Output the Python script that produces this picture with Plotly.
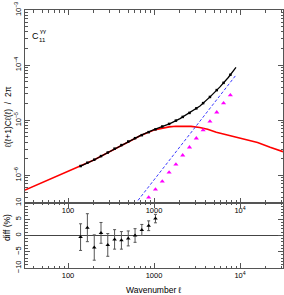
import plotly.graph_objects as go

# ---------------- data ----------------
ell_bins = [140, 168, 202, 242, 290, 348, 418, 502, 602, 722, 867, 1040,
            1248, 1498, 1797, 2157, 2588, 3106, 3727, 4472, 5367, 6440, 7728]
dots_cl = [1.479e-6, 1.698e-6, 1.928e-6, 2.239e-6, 2.600e-6, 3.055e-6, 3.548e-6,
           4.121e-6, 4.732e-6, 5.370e-6, 6.095e-6, 6.839e-6, 7.709e-6, 8.590e-6,
           9.863e-6, 1.151e-5, 1.361e-5, 1.644e-5, 2.046e-5, 2.649e-5, 3.524e-5,
           4.775e-5, 6.683e-5]

model_ell = [140, 200, 300, 500, 700, 1000, 1250, 1535, 2006, 2623, 3428, 4482, 5853, 7311, 8980]
model_cl = [1.479e-6, 1.905e-6, 2.661e-6, 4.074e-6, 5.309e-6, 6.761e-6, 7.650e-6, 8.710e-6,
            1.074e-5, 1.380e-5, 1.820e-5, 2.655e-5, 4.027e-5, 5.970e-5, 9.078e-5]

red_ell = [31.6, 50, 100, 138, 200, 300, 500, 700, 1000, 1250, 1500, 1800, 2200, 2700, 3400,
           4200, 5300, 6700, 8400, 11000, 16000, 22400, 31600]
red_cl = [5.408e-7, 7.396e-7, 1.175e-6, 1.479e-6, 1.905e-6, 2.661e-6, 4.074e-6,
          5.309e-6, 6.683e-6, 7.250e-6, 7.586e-6, 7.780e-6, 7.870e-6, 7.760e-6, 7.413e-6,
          6.850e-6, 6.053e-6, 5.550e-6, 5.012e-6, 4.519e-6, 3.950e-6, 3.250e-6, 2.700e-6]

noise_ell = [600, 2000, 8980]
noise_cl = [2.99e-7, 3.32e-6, 6.6e-5]

tri_ell = [867, 1040, 1248, 1498, 1797, 2157, 2588, 3106, 3727, 4472, 5367, 6440, 7728]
tri_cl = [3.981e-7, 5.559e-7, 7.762e-7, 1.135e-6, 1.585e-6, 2.312e-6, 3.236e-6,
          4.710e-6, 6.607e-6, 9.550e-6, 1.396e-5, 2.042e-5, 2.851e-5]

diff_ell = [140, 168, 202, 242, 290, 348, 418, 502, 602, 722, 867, 1040]
diff_val = [-0.5, 2.4, -3.7, 0.8, -2.9, -1.2, -1.5, -0.9, 0.0, 1.7, 3.0, 5.2]
diff_err = [4.1, 4.3, 3.9, 3.2, 3.5, 3.0, 2.7, 2.3, 2.1, 1.7, 1.5, 1.3]

x_tickvals = [100, 1000, 10000]
x_ticktext = ["100", "1000", "10<sup>4</sup>"]
y_tickvals = [1e-6, 1e-5, 1e-4, 1e-3]
y_ticktext = ["10<sup>\u22126</sup>", "10<sup>\u22125</sup>", "10<sup>\u22124</sup>", "10<sup>\u22123</sup>"]
d_tickvals = [-10, -5, 0, 5, 10]
d_ticktext = ["\u221210", "\u22125", "0", "5", "10"]

# ---------------- figure ----------------
FONT = "Liberation Sans"
AX = "#555555"

fig = go.Figure()
fig.add_trace(go.Scatter(x=red_ell, y=red_cl, mode="lines", line=dict(color="#ff0000", width=1.6),
                         xaxis="x", yaxis="y", showlegend=False))
fig.add_trace(go.Scatter(x=noise_ell, y=noise_cl, mode="lines", line=dict(color="#3a3aff", width=1, dash="3px,2px"),
                         xaxis="x", yaxis="y", showlegend=False))
fig.add_trace(go.Scatter(x=model_ell, y=model_cl, mode="lines", line=dict(color="black", width=1.3),
                         xaxis="x", yaxis="y", showlegend=False))
fig.add_trace(go.Scatter(x=ell_bins, y=dots_cl, mode="markers", marker=dict(color="black", size=2.5, symbol="square"),
                         xaxis="x", yaxis="y", showlegend=False))
fig.add_trace(go.Scatter(x=tri_ell, y=tri_cl, mode="markers", marker=dict(color="#ff00ff", size=4.5, symbol="triangle-up"),
                         xaxis="x", yaxis="y", showlegend=False))
fig.add_trace(go.Scatter(x=diff_ell, y=diff_val, mode="markers",
                         marker=dict(color="black", size=4, symbol="triangle-up"),
                         error_y=dict(type="data", array=diff_err, color="#555555", thickness=1, width=1.5),
                         xaxis="x2", yaxis="y2", showlegend=False))

minor_x = [m * 10 ** k for k in range(1, 5) for m in range(2, 10)]
minor_y = [m * 10.0 ** k for k in range(-7, -3) for m in range(2, 10)]
minor_d = [v for v in range(-10, 11) if v % 5 != 0]

xcommon = dict(type="log", range=[1.5, 4.5], tickvals=x_tickvals, ticktext=x_ticktext,
               ticks="inside", ticklen=5, tickwidth=1, tickcolor=AX, automargin=False,
               minor=dict(tickmode="array", tickvals=minor_x, ticks="inside", ticklen=2.5, tickcolor=AX),
               showline=True, linecolor=AX, linewidth=1, mirror="allticks",
               showgrid=False, zeroline=False, tickfont=dict(family=FONT, size=7.5, color="black"))

fig.update_layout(
    width=284, height=295,
    margin=dict(l=25, r=1, t=10, b=27, autoexpand=False),
    paper_bgcolor="white", plot_bgcolor="white",
    xaxis=dict(domain=[0, 1], anchor="y", **xcommon),
    xaxis2=dict(domain=[0, 1], anchor="y2", **xcommon),
    yaxis=dict(domain=[0.252, 1], anchor="x", type="log", range=[-6.5, -3], automargin=False,
               tickvals=y_tickvals, ticktext=y_ticktext, tickangle=-90,
               ticks="inside", ticklen=5, tickcolor=AX,
               minor=dict(tickmode="array", tickvals=minor_y, ticks="inside", ticklen=2.5, tickcolor=AX),
               showline=True, linecolor=AX, linewidth=1, mirror="allticks",
               showgrid=False, zeroline=False, tickfont=dict(family=FONT, size=7.5, color="black")),
    yaxis2=dict(domain=[0, 0.252], anchor="x2", range=[-10, 10], automargin=False,
                tickvals=d_tickvals, ticktext=d_ticktext, tickangle=-90,
                ticks="inside", ticklen=5, tickcolor=AX,
                minor=dict(tickmode="array", tickvals=minor_d, ticks="inside", ticklen=2.5, tickcolor=AX),
                showline=True, linecolor=AX, linewidth=1, mirror="allticks",
                showgrid=False, zeroline=True, zerolinecolor="#444444", zerolinewidth=1,
                tickfont=dict(family=FONT, size=7.5, color="black")),
    annotations=[
        dict(text="\u2113(\u2113+1)C\u2113(\u2113)  /  2\u03c0", textangle=-90, xref="paper", yref="paper",
             x=-0.066, y=0.585, xanchor="center", yanchor="middle", showarrow=False,
             font=dict(family=FONT, size=8.5, color="black")),
        dict(text="diff (%)", textangle=-90, xref="paper", yref="paper",
             x=-0.07, y=0.159, xanchor="center", yanchor="middle", showarrow=False,
             font=dict(family=FONT, size=8.5, color="black")),
        dict(text="Wavenumber \u2113", xref="paper", yref="paper",
             x=0.5, y=-0.085, xanchor="center", yanchor="middle", showarrow=False,
             font=dict(family=FONT, size=8.5, color="black")),
        dict(text="C", xref="paper", yref="paper", x=0.039, y=0.899, xanchor="center", yanchor="middle",
             showarrow=False, font=dict(family=FONT, size=9, color="black")),
        dict(text="\u03b3\u03b3", xref="paper", yref="paper", x=0.068, y=0.917, xanchor="center", yanchor="middle",
             showarrow=False, font=dict(family=FONT, size=6, color="black")),
        dict(text="11", xref="paper", yref="paper", x=0.068, y=0.883, xanchor="center", yanchor="middle",
             showarrow=False, font=dict(family=FONT, size=6, color="black")),
    ],
)

fig.write_html("out.html", config={"displayModeBar": False},
               post_script="document.body.style.margin='0';document.body.style.overflow='hidden';")
